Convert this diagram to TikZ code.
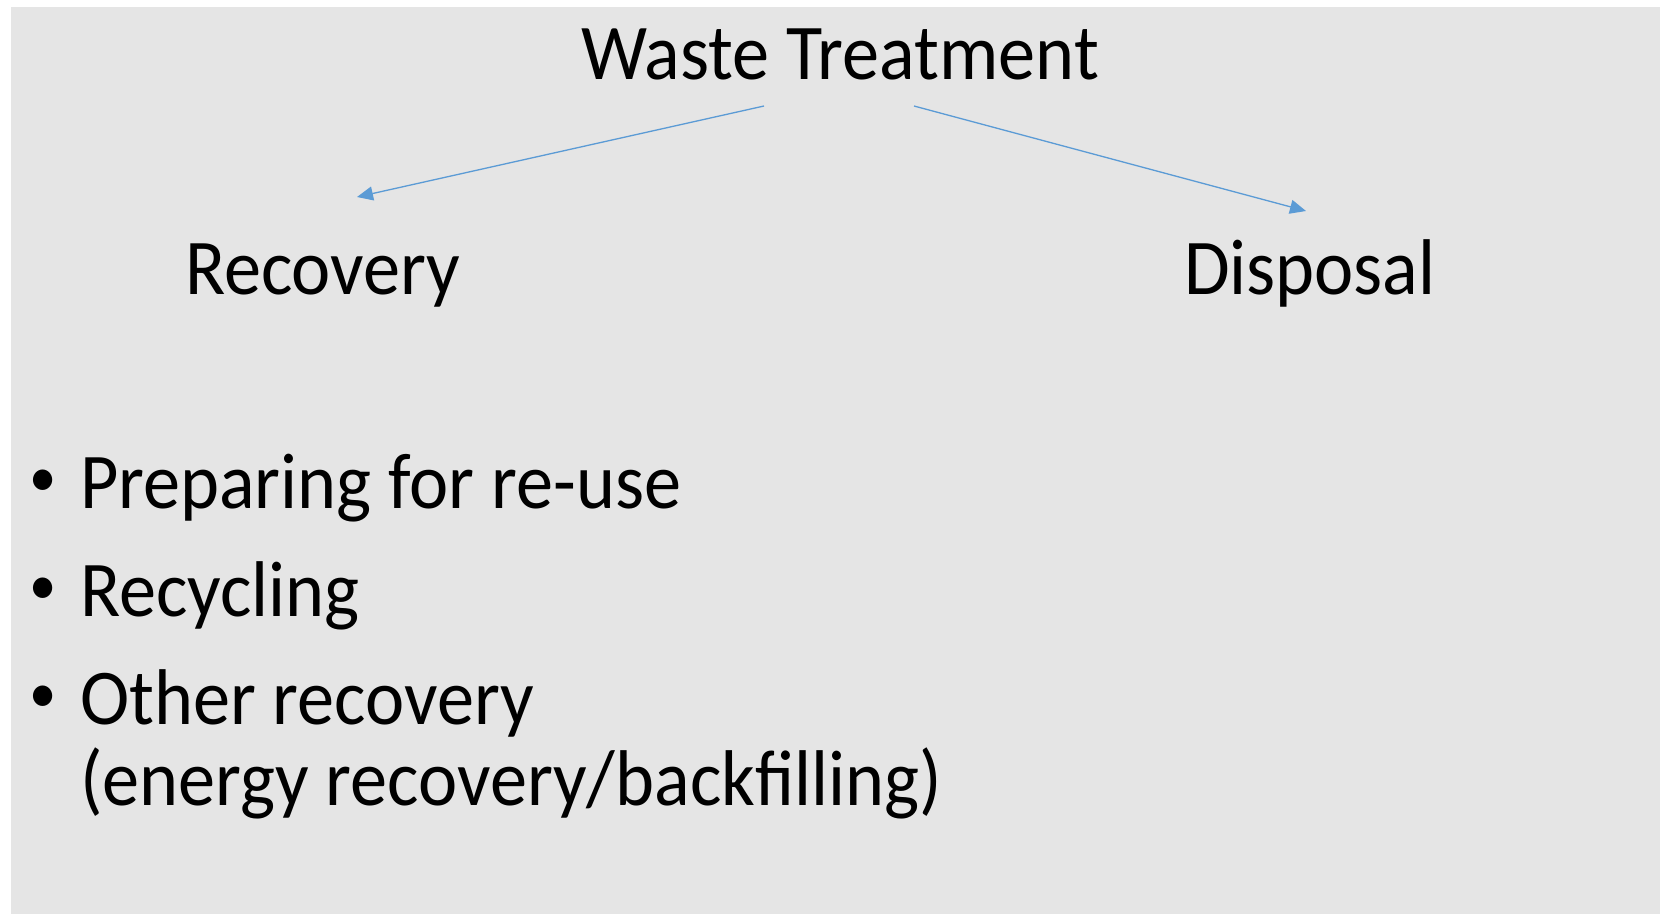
\documentclass[tikz,border=0pt]{standalone}
\usepackage{fontspec}
\setmainfont{Carlito}[FakeStretch=0.94]
\usetikzlibrary{arrows.meta}
\definecolor{bg}{HTML}{E5E5E5}
\definecolor{arrowblue}{HTML}{5B9BD5}
\begin{document}
\begin{tikzpicture}[x=1pt,y=-1pt,
  lbl/.style={inner sep=0pt,outer sep=0pt,anchor=base west,font=\fontsize{79}{81}\selectfont},
  bul/.style={inner sep=0pt,outer sep=0pt,anchor=center,font=\fontsize{58}{60}\selectfont},
  conn/.style={draw=arrowblue,line width=1.3pt,-{Triangle[length=16pt,width=14pt]}}]
\useasboundingbox (0,0) rectangle (1660,914);
\fill[bg] (11,7) rectangle (1660,914);
\node[lbl] (wt) at (581,79) {Waste Treatment};
\node[lbl] (rec) at (185,294) {Recovery};
\node[lbl] (dis) at (1184,294) {Disposal};
\node[bul] (b1) at (43,483) {\textbullet};
\node[lbl] (i1) at (80,508) {Preparing for re-use};
\node[bul] (b2) at (43,591) {\textbullet};
\node[lbl] (i2) at (80,616) {Recycling};
\node[bul] (b3) at (43,699) {\textbullet};
\node[lbl] (i3) at (80,724) {Other recovery};
\node[lbl] (i4) at (80,805) {(energy recovery/backfilling)};
\coordinate (wtl) at (764,106);
\coordinate (recT) at (357,197);
\coordinate (wtr) at (914,106);
\coordinate (disT) at (1306,211);
\draw[conn] (wtl) -- (recT);
\draw[conn] (wtr) -- (disT);
\end{tikzpicture}
\end{document}
